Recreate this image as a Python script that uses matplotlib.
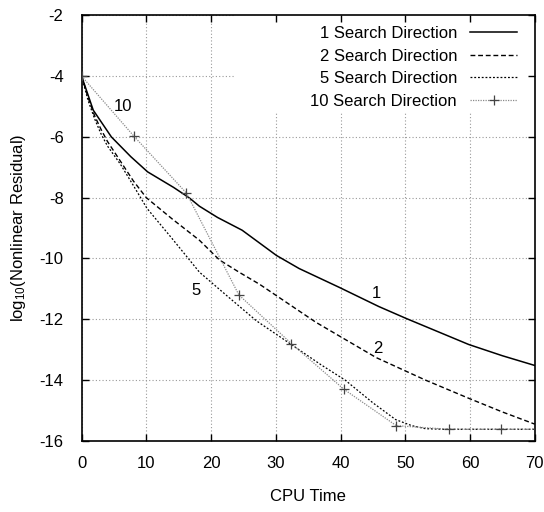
import matplotlib
matplotlib.use('Agg')
import matplotlib.pyplot as plt
from matplotlib.patches import Rectangle

plt.rcParams['font.family'] = ['Liberation Sans', 'DejaVu Sans']
plt.rcParams['mathtext.fontset'] = 'custom'
plt.rcParams['mathtext.rm'] = 'Liberation Sans'
plt.rcParams['mathtext.default'] = 'regular'
plt.rcParams['axes.unicode_minus'] = False

# 1 search direction
t1 = [0, 1.8, 4.6, 7.6, 10.2, 14.2, 16.6, 18.2, 21, 24.8, 30.1, 33.6, 39.8, 45.9, 50.1, 59.8, 65, 70]
r1 = [-4, -5.12, -6.0, -6.65, -7.15, -7.66, -8.0, -8.28, -8.65, -9.07, -9.9, -10.33, -10.95, -11.58, -11.97, -12.83, -13.2, -13.52]

# 2 search directions
t2 = [0, 1, 2, 3, 4, 6, 8, 10, 14, 18.2, 21.3, 24.4, 27.5, 36.2, 45.5, 53.1, 59.8, 65, 70]
r2 = [-4, -4.7, -5.3, -5.75, -6.15, -6.8, -7.45, -8.0, -8.7, -9.4, -10.05, -10.46, -10.85, -12.1, -13.26, -14.0, -14.6, -15.05, -15.45]

# 5 search directions
t5 = [0, 1, 2, 3, 4, 6, 8, 10.1, 14, 18.2, 22.3, 27, 32.6, 37, 40.7, 45, 48.5, 51, 53.1, 56, 60, 65, 70]
r5 = [-4, -4.8, -5.4, -5.9, -6.3, -6.9, -7.6, -8.35, -9.35, -10.45, -11.2, -12.05, -12.86, -13.5, -14.0, -14.75, -15.3, -15.5, -15.6, -15.62, -15.62, -15.62, -15.62]

# 10 search directions
t10 = [0, 8.1, 16.2, 24.3, 32.4, 40.5, 48.6, 56.7, 64.8, 70]
r10 = [-4, -5.98, -7.85, -11.2, -12.8, -14.3, -15.5, -15.62, -15.62, -15.62]

xticks = [0, 10, 20, 30, 40, 50, 60, 70]
yticks = [-16, -14, -12, -10, -8, -6, -4, -2]

fig = plt.figure(figsize=(5.44, 5.12), dpi=100)
ax = fig.add_axes([0.150, 0.139, 0.833, 0.831])

# grid drawn by hand so the key background can hide part of it
for x in xticks:
    ax.axvline(x, color='#999999', lw=0.8, ls=(0, (1, 2)), zorder=0.8)
for y in yticks:
    ax.axhline(y, color='#999999', lw=0.8, ls=(0, (1, 2)), zorder=0.8)

# key background
ax.add_patch(Rectangle((0.338, 0.772), 0.662, 0.228, transform=ax.transAxes,
                       facecolor='white', edgecolor='none', zorder=1.0))

ax.plot(t1, r1, color='black', lw=1.1, label='1 Search Direction', zorder=3)
ax.plot(t2, r2, color='black', lw=1.0, ls=(0, (3.5, 2)), label='2 Search Direction', zorder=3)
ax.plot(t5, r5, color='black', lw=0.9, ls=(0, (1.5, 1.5)), label='5 Search Direction', zorder=3)
ax.plot(t10, r10, color='#8a8a8a', lw=0.9, ls=(0, (1, 1)), zorder=3)
ax.plot(t10[:-1], r10[:-1], ls='none', marker='+', ms=7, mew=0.9, color='#444444', zorder=3)
ax.plot([], [], color='#8a8a8a', lw=0.9, ls=(0, (1, 1)), marker='+', ms=7, mew=0.9,
        mec='#444444', markevery=[1], label='10 Search Direction')

ax.text(6.4, -5.0, '10', fontsize=12, ha='center', va='center')
ax.text(17.6, -11.05, '5', fontsize=12, ha='center', va='center')
ax.text(45.6, -11.15, '1', fontsize=12, ha='center', va='center')
ax.text(45.7, -12.97, '2', fontsize=12, ha='center', va='center')

ax.set_xlim(0, 70)
ax.set_ylim(-16, -2)
ax.set_xticks(xticks)
ax.set_yticks(yticks)
ax.tick_params(direction='in', length=5, width=1, top=True, right=True, labelsize=12)
ax.tick_params(axis='x', pad=11)
ax.tick_params(axis='y', pad=13)
for s in ax.spines.values():
    s.set_linewidth(1.2)

ax.set_xlabel('CPU Time', fontsize=12, labelpad=13)
ax.set_ylabel(r'log$_{10}$(Nonlinear Residual)', fontsize=12, labelpad=8)

leg = ax.legend(loc='upper right', markerfirst=False, frameon=False, fontsize=12,
                handlelength=2.8, labelspacing=0.45, handletextpad=0.8,
                borderaxespad=0.25, bbox_to_anchor=(0.985, 1.0))
leg._legend_box.align = 'right'

fig.savefig('out.png', dpi=100)
